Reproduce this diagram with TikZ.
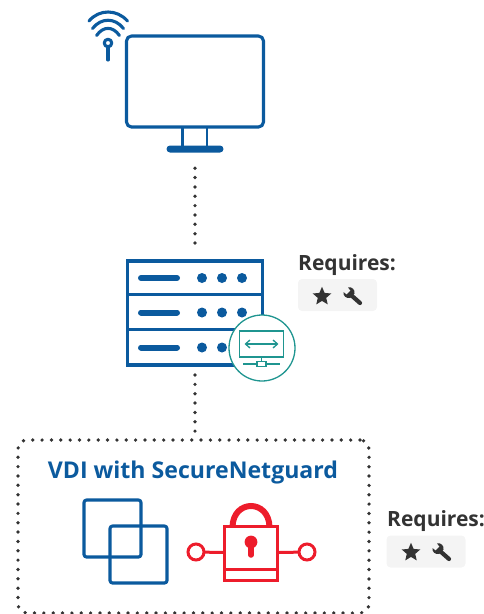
\documentclass[tikz,border=0pt]{standalone}
\usepackage{fontspec}
\setmainfont{Open Sans}
\usetikzlibrary{shapes.geometric}
\definecolor{netblue}{HTML}{0B5A9E}
\definecolor{netred}{HTML}{ED1C2B}
\definecolor{netteal}{HTML}{1F9590}
\definecolor{reqgray}{HTML}{F4F4F4}
\definecolor{reqtext}{HTML}{333333}
\tikzset{
    icon/.style={draw=netblue, line width=3.1pt, line cap=round, line join=round},
    lockline/.style={draw=netred, line width=3pt},
    teal/.style={draw=netteal, line width=1.3pt},
    dotline/.style={draw=reqtext, line width=3.7pt, line cap=round, dash pattern=on 0pt off 9.35pt},
    outlinebox/.style={draw, inner sep=0pt, outer sep=0pt},
    reqlabel/.style={anchor=base west, inner sep=0pt, text=reqtext, font=\bfseries\fontsize{21}{24}\selectfont},
    reqbox/.style={fill=reqgray, rounded corners=4pt, minimum width=79pt, minimum height=32pt, inner sep=0pt},
    reqicons/.pic={
        \node[star, star points=5, star point ratio=2.2, fill=reqtext, inner sep=0pt, minimum size=19.5pt] (-star) at (0,0.5) {};
        \draw[reqtext, line width=4.2pt, line cap=round] (29,-1) -- (38,7);
        \fill[reqtext] (26,-8.5) .. controls (30,-9.5) and (33,-6.5) .. (32.5,-2.5) -- (28,2) .. controls (24,2.5) and (21,0) .. (21.5,-4) -- (24.5,-1.5) -- (28.5,-5.5) -- cycle;
    }
}
\begin{document}
\begin{tikzpicture}[x=1pt, y=-1pt]
    \useasboundingbox (0,0) rectangle (484,614);

    \node[outlinebox, icon, rounded corners=5pt, minimum width=137pt, minimum height=91pt] (monitor) at (195,81.5) {};
    \node[fill=netblue, rounded corners=3.5pt, inner sep=0pt, minimum width=57pt, minimum height=7pt] (standbase) at (195,149) {};
    \draw[netblue, line width=2.8pt] (182.5,127) -- (182.5,147) (207,127) -- (207,147);

    \draw[icon] (108,47) -- (108,60);
    \node[outlinebox, icon, fill=white, circle, minimum size=7.5pt] (antenna) at (108,43) {};
    \draw[icon] (96.6,35.5) .. controls (103,26) and (113,26) .. (119.4,35.5);
    \draw[icon] (92.5,28.5) .. controls (101,17.5) and (115,17.5) .. (123.5,28.5);
    \draw[icon] (89,21) .. controls (99,9) and (117,9) .. (127.5,21);

    \node[outlinebox, icon, line cap=butt, line join=miter, minimum width=135pt, minimum height=104pt] (server) at (195,313) {};
    \foreach \y in {278,312.5,347.5} {
        \draw[netblue, line width=6pt, line cap=round] (141,\y) -- (177,\y);
        \foreach \x in {202,222,242}
            \fill[netblue] (\x,\y) circle (5);
    }
    \draw[netblue, line width=3.1pt] (127,294.5) -- (262,294.5) (127,329.5) -- (262,329.5);

    \node[outlinebox, teal, fill=white, circle, minimum size=66pt] (switch) at (262,348) {};
    \node[outlinebox, teal, minimum width=44pt, minimum height=26pt] (screen) at (261.5,344) {};
    \draw[teal] (246,344) -- (277,344);
    \draw[teal] (250,340) -- (245.5,344) -- (250,348);
    \draw[teal] (273,340) -- (277.5,344) -- (273,348);
    \node[outlinebox, teal, minimum width=9pt, minimum height=5pt] (plug) at (261.5,364) {};
    \draw[teal] (screen) -- (plug);
    \draw[teal] (243,364) -- (plug) -- (280,364);

    \node[reqlabel] (labela) at (298,270) {Requires:};
    \node[reqbox] (boxa) at (337.5,295) {};
    \pic (iconsa) at (322,296) {reqicons};

    \node[outlinebox, dotline, rounded corners=9pt, minimum width=351pt, minimum height=173pt] (vdibox) at (193.5,526.5) {};
    \node[inner sep=0pt, text=netblue, font=\bfseries\fontsize{23.1}{26}\selectfont] (vditext) at (193,472.5) {VDI with SecureNetguard};

    \draw[dotline, shorten <=15.5pt, shorten >=9pt] (standbase) -- (server);
    \draw[dotline, shorten <=10pt, shorten >=5pt] (server) -- (server |- vdibox.north);

    \node[outlinebox, icon, rounded corners=2.5pt, minimum width=57pt, minimum height=57pt] (desktopa) at (112.5,528.5) {};
    \node[outlinebox, icon, rounded corners=2.5pt, minimum width=57pt, minimum height=57pt] (desktopb) at (138.5,554.5) {};

    \draw[netred, line width=6pt] (232.5,527) .. controls (233,499) and (269,499) .. (269.5,527);
    \node[outlinebox, lockline, fill=white, minimum width=53pt, minimum height=54pt] (lock) at (251,553) {};
    \draw[netred, line width=3pt] (224.5,569.5) -- (277.5,569.5);
    \fill[netred] (251,542) circle (6.4);
    \draw[netred, line width=5.5pt, line cap=round] (251,544) -- (251,555);
    \node[outlinebox, lockline, circle, minimum size=16pt] (portl) at (196,552) {};
    \node[outlinebox, lockline, circle, minimum size=16pt] (portr) at (307,552) {};
    \draw[lockline] (portl) -- (lock);
    \draw[lockline] (lock) -- (portr);

    \node[reqlabel] (labelb) at (387,526.5) {Requires:};
    \node[reqbox] (boxb) at (426,551.5) {};
    \pic (iconsb) at (411,552) {reqicons};
\end{tikzpicture}
\end{document}
